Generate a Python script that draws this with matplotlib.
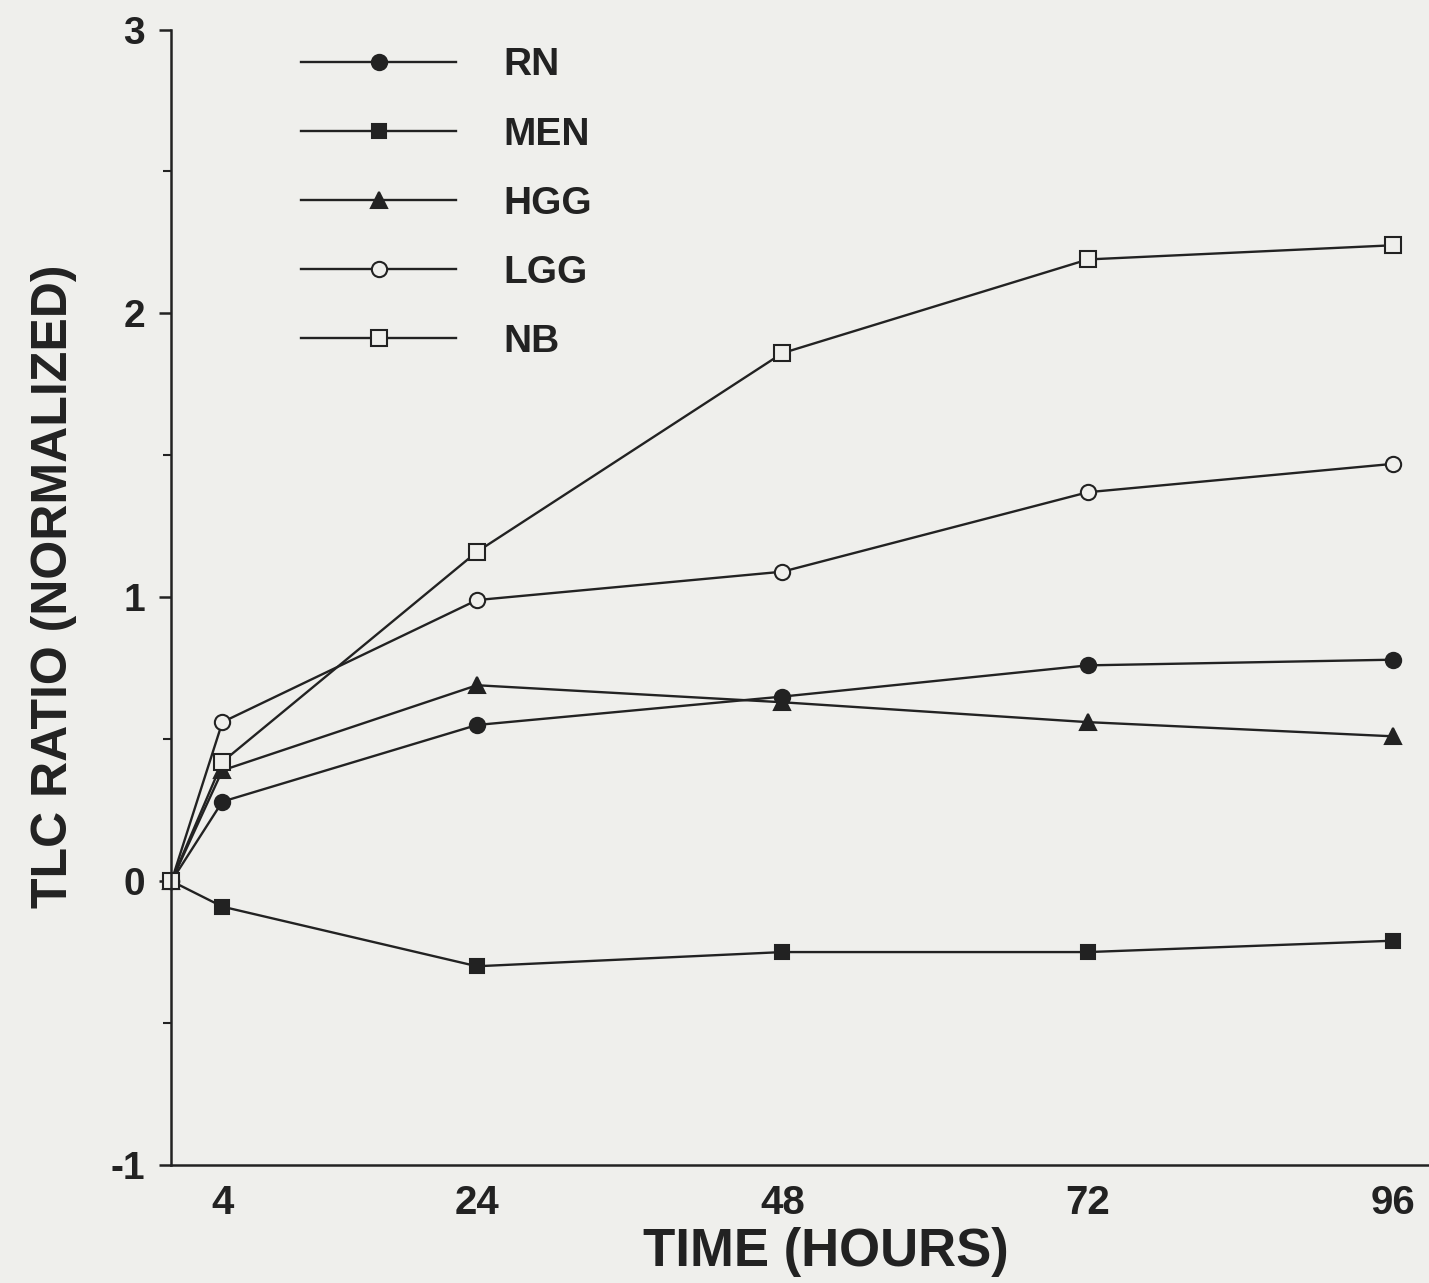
import matplotlib
matplotlib.use("Agg")
import matplotlib.pyplot as plt
from matplotlib.ticker import MultipleLocator
from matplotlib.legend_handler import HandlerLine2D

# time points (hours) and normalized TLC ratio
hours = [0, 4, 24, 48, 72, 96]
rn = [0, 0.28, 0.55, 0.65, 0.76, 0.78]
men = [0, -0.09, -0.30, -0.25, -0.25, -0.21]
hgg = [0, 0.39, 0.69, 0.63, 0.56, 0.51]
lgg = [0, 0.56, 0.99, 1.09, 1.37, 1.47]
nb = [0, 0.42, 1.16, 1.86, 2.19, 2.24]

series_names = ["RN", "MEN", "HGG", "LGG", "NB"]
xtick_vals = [4, 24, 48, 72, 96]
ytick_vals = [-1, 0, 1, 2, 3]

bg = "#efefec"
ink = "#222222"

plt.rcParams['font.family'] = ['Liberation Sans', 'DejaVu Sans']
plt.rcParams['font.weight'] = 'bold'
plt.rcParams['axes.unicode_minus'] = False


class OffsetMarkerHandler(HandlerLine2D):
    # marker sits a bit right of the middle of the legend line
    def get_xdata(self, legend, xdescent, ydescent, width, height, fontsize):
        xdata = [-xdescent, -xdescent + width]
        xmark = [-xdescent + 0.62 * width]
        return xdata, xmark


fig = plt.figure(figsize=(14.29, 12.83), dpi=100, facecolor=bg)
ax = fig.add_axes([0.120, 0.092, 0.880, 0.885])
ax.set_facecolor(bg)

styles = [
    dict(marker='o', mfc=ink, markersize=11),
    dict(marker='s', mfc=ink, markersize=10.5),
    dict(marker='^', mfc=ink, markersize=11),
    dict(marker='o', mfc=bg, markersize=11),
    dict(marker='s', mfc=bg, markersize=11),
]
data = [rn, men, hgg, lgg, nb]
for name, vals, st in zip(series_names, data, styles):
    ax.plot(hours, vals, color=ink, linewidth=1.7,
            markeredgecolor=ink, markeredgewidth=1.5, label=name,
            clip_on=False, **st)

ax.set_xlim(0, 98.8)
ax.set_ylim(-1, 3)

for s in ['top', 'right']:
    ax.spines[s].set_visible(False)
for s in ['left', 'bottom']:
    ax.spines[s].set_color(ink)
    ax.spines[s].set_linewidth(1.8)

ax.set_xticks(xtick_vals)
ax.set_yticks(ytick_vals)
ax.yaxis.set_minor_locator(MultipleLocator(0.5))
ax.tick_params(axis='x', length=0, pad=14, labelsize=29, colors=ink)
ax.tick_params(axis='y', which='major', length=9, width=1.8, pad=10,
               labelsize=28, colors=ink)
ax.tick_params(axis='y', which='minor', length=6, width=1.5, colors=ink)

ax.set_xlabel("TIME (HOURS)", fontsize=38, color=ink, fontweight='bold')
ax.xaxis.set_label_coords(0.52, -0.055)
ax.set_ylabel("TLC RATIO (NORMALIZED)", fontsize=36, color=ink, fontweight='bold')
ax.yaxis.set_label_coords(-0.075, 0.51)

leg = ax.legend(loc='upper left', bbox_to_anchor=(0.075, 1.015), frameon=False,
                fontsize=28, handlelength=4.0, handletextpad=1.2,
                labelspacing=0.85, numpoints=1,
                handler_map={l: OffsetMarkerHandler() for l in ax.get_lines()})
for t in leg.get_texts():
    t.set_color(ink)

fig.savefig("out.png", dpi=100, facecolor=bg)
